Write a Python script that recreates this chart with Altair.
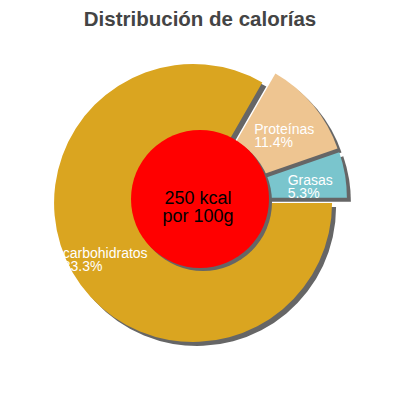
import altair as alt
import pandas as pd

# ---- data ----
categories = ["carbohidratos", "Proteínas", "Grasas"]
percents = [83.3, 11.4, 5.3]
colors = ["#DAA520", "#EEC591", "#7AC5CD"]
kcal_lines = ["250 kcal", "por 100g"]
title_text = "Distribución de calorías"

# ---- layout parameters (chart coordinates) ----
W, H = 384, 384
CX, CY = 192, 191        # pie centre
R = 139                  # pie radius
EXPL = 8                 # explode distance
SH = 4                   # shadow offset
LABEL_R = 101
START = "PI/2"
CENTER_R = 69
FONT = "Liberation Sans"

df = pd.DataFrame({"cat": categories, "pct": percents, "order": list(range(len(categories)))})

base = alt.Chart(df).transform_window(
    cum="sum(pct)", sort=[alt.SortField("order")], frame=[None, 0]
).transform_calculate(
    t0=f"{START} + (datum.cum - datum.pct) / 100 * 2 * PI",
    t1=f"{START} + datum.cum / 100 * 2 * PI",
).transform_calculate(
    mid="(datum.t0 + datum.t1) / 2",
).transform_calculate(
    cx=f"{CX} + {EXPL} * sin(datum.mid)",
    cy=f"{CY} - {EXPL} * cos(datum.mid)",
).transform_calculate(
    sx=f"datum.cx + {SH}",
    sy=f"datum.cy + {SH}",
    lx=f"datum.cx + {LABEL_R} * sin(datum.mid) - length(datum.cat) * 3.3",
    ly=f"datum.cy - {LABEL_R} * cos(datum.mid)",
    label="datum.cat + '\\n' + format(datum.pct, '.1f') + '%'",
)

theta = alt.Theta("t0:Q", scale=None)
theta2 = alt.Theta2("t1:Q")

shadow = base.mark_arc(radius=R, color="#666666").encode(
    x=alt.X("sx:Q", scale=None, axis=None),
    y=alt.Y("sy:Q", scale=None, axis=None),
    theta=theta, theta2=theta2,
)

slices = base.mark_arc(radius=R).encode(
    x=alt.X("cx:Q", scale=None, axis=None),
    y=alt.Y("cy:Q", scale=None, axis=None),
    theta=theta, theta2=theta2,
    color=alt.Color("cat:N", scale=alt.Scale(domain=categories, range=colors), legend=None),
)

labels = base.mark_text(
    align="left", baseline="middle", font=FONT, fontSize=14, color="white",
    lineBreak="\n", lineHeight=13,
).encode(
    x=alt.X("lx:Q", scale=None, axis=None),
    y=alt.Y("ly:Q", scale=None, axis=None),
    text="label:N",
)

cdf = pd.DataFrame({"txt": ["\n".join(kcal_lines)]})
center_shadow = alt.Chart(cdf).mark_arc(radius=CENTER_R, color="#666666").encode(
    x=alt.value(CX + 3), y=alt.value(CY + 3),
    theta=alt.value(0), theta2=alt.value(6.2832),
)
center = alt.Chart(cdf).mark_arc(radius=CENTER_R, color="#FF0000").encode(
    x=alt.value(CX), y=alt.value(CY),
    theta=alt.value(0), theta2=alt.value(6.2832),
)
center_text = alt.Chart(cdf).mark_text(
    align="center", baseline="middle", font=FONT, fontSize=18, color="black",
    lineBreak="\n", lineHeight=18,
).encode(x=alt.value(CX - 2), y=alt.value(CY), text="txt:N")

tdf = pd.DataFrame({"t": [title_text]})
title = alt.Chart(tdf).mark_text(
    align="center", baseline="alphabetic", font=FONT, fontSize=20.5,
    fontWeight="bold", color="#444444",
).encode(x=alt.value(192), y=alt.value(17.5), text="t:N")

chart = alt.layer(
    shadow, slices, center_shadow, center, center_text, labels, title
).properties(
    width=W, height=H, padding=0, autosize=alt.AutoSizeParams(type="none")
).configure_view(stroke=None)

chart.save("out.html", embed_options={"renderer": "svg", "actions": False})
